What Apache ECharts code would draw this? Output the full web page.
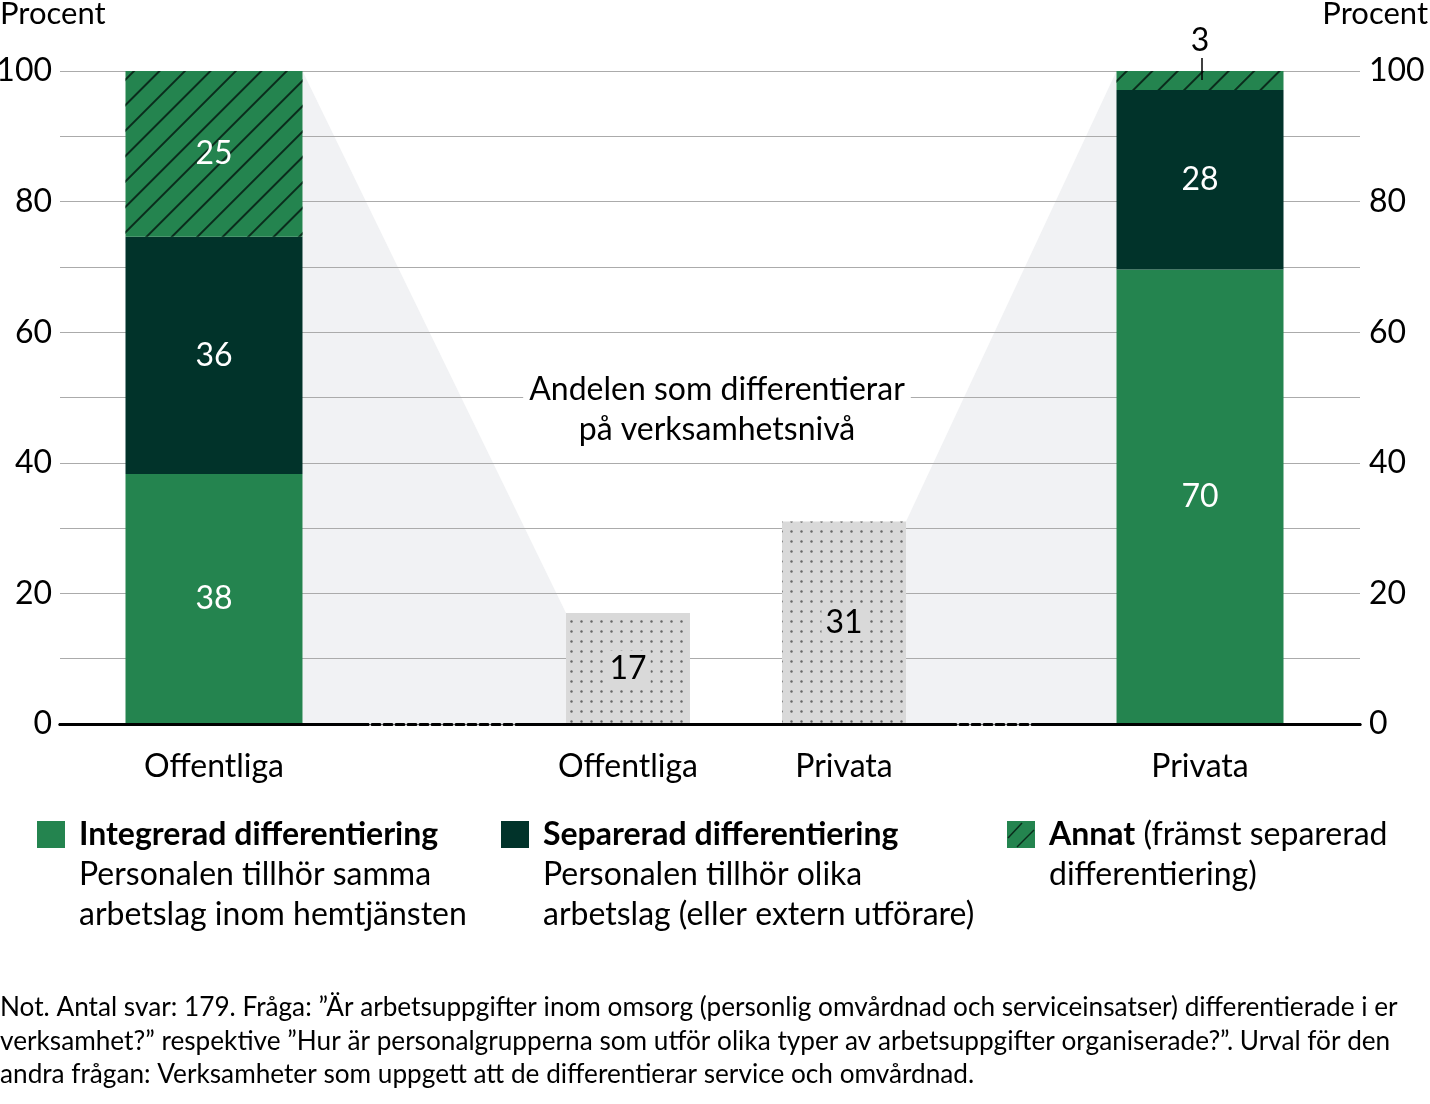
<!DOCTYPE html>
<html><head><meta charset="utf-8">
<script src="https://cdn.jsdelivr.net/npm/echarts@6/dist/echarts.min.js"></script>
<style>html,body{margin:0;padding:0;background:#fff}#c{width:1430px;height:1104px}</style>
</head><body><div id="c"></div>
<script>
// ---- data ----
const outerCategories = ['Offentliga', 'Privata'];
const integrerad = [38.3, 69.6];
const separerad = [36.3, 27.5];
const annat = [25.4, 2.9];
const verksamhetCategories = ['Offentliga', 'Privata'];
const verksamhet = [17, 31];
const yTickLabels = [0, 20, 40, 60, 80, 100];
const axisTitle = 'Procent';
const annotationText = 'Andelen som differentierar\npå verksamhetsnivå';
const legendTitles = ['Integrerad differentiering', 'Separerad differentiering', 'Annat'];
const legendTexts = ['Personalen tillhör samma\narbetslag inom hemtjänsten', 'Personalen tillhör olika\narbetslag (eller extern utförare)', ' (främst separerad\ndifferentiering)'];
const noteText = 'Not. Antal svar: 179. Fråga: ”Är arbetsuppgifter inom omsorg (personlig omvårdnad och serviceinsatser) differentierade i er\nverksamhet?” respektive ”Hur är personalgrupperna som utför olika typer av arbetsuppgifter organiserade?”. Urval för den\nandra frågan: Verksamheter som uppgett att de differentierar service och omvårdnad.';

// ---- style ----
const FONT = 'Lato';
const GREEN = '#24844f';
const DARK = '#01332a';
const HATCH = '#0a2c1c';
const GRAY_BAR = '#d9d9d9';
const FAN = '#f1f2f4';
const W_OUT_L = 177, W_IN = 124, W_OUT_R = 167;

const chart = echarts.init(document.getElementById('c'), null, {renderer: 'canvas'});
const hatchDecal = {symbol: 'rect', symbolSize: 1, color: HATCH, dashArrayX: [1, 0], dashArrayY: [1.6, 16], rotation: -Math.PI / 4};
const dotDecal = {symbol: 'circle', symbolSize: 0.8, color: '#666666', dashArrayX: [3, 7], dashArrayY: [3, 7], rotation: 0};
const whiteLabel = {show: true, position: 'inside', color: '#fff', fontFamily: FONT, fontSize: 32, formatter: p => Math.round(p.value)};

function hideY(g) { return {type: 'value', gridIndex: g, min: 0, max: 100, show: false}; }
function catX(g, data) {
  return {type: 'category', gridIndex: g, data: data, z: 5,
    axisLine: {lineStyle: {color: '#000', width: 3}}, axisTick: {show: false},
    axisLabel: {color: '#000', fontFamily: FONT, fontSize: 32, margin: 27}};
}
const yLabelL = {color: '#000', fontFamily: FONT, fontSize: 32, margin: 8, formatter: v => yTickLabels.includes(v) ? String(v) : ''};
const yLabelR = {color: '#000', fontFamily: FONT, fontSize: 32, margin: 9, formatter: v => yTickLabels.includes(v) ? String(v) : ''};
const gridBase = {top: 71, bottom: 380, containLabel: false, outerBoundsMode: 'none'};

const option = {
  backgroundColor: '#fff',
  animation: false,
  grid: [
    Object.assign({left: 60, right: 70}, gridBase),
    Object.assign({left: 60, width: 308}, gridBase),
    Object.assign({left: 520, width: 432}, gridBase),
    Object.assign({left: 1040, width: 320}, gridBase)
  ],
  xAxis: [
    {type: 'value', gridIndex: 0, min: 0, max: 1, z: 4, axisLabel: {show: false}, axisTick: {show: false}, splitLine: {show: false},
      axisLine: {show: true, lineStyle: {color: '#000', width: 3, type: [8, 4]}}},
    catX(1, [outerCategories[0]]),
    catX(2, verksamhetCategories),
    catX(3, [outerCategories[1]])
  ],
  yAxis: [
    {type: 'value', gridIndex: 0, min: 0, max: 100, interval: 10, position: 'left', axisLine: {show: false}, axisTick: {show: false},
      splitLine: {lineStyle: {color: '#ababab', width: 1.2}}, axisLabel: yLabelL},
    {type: 'value', gridIndex: 0, min: 0, max: 100, interval: 10, position: 'right', axisLine: {show: false}, axisTick: {show: false},
      splitLine: {show: false}, axisLabel: yLabelR},
    hideY(1), hideY(2), hideY(3)
  ],
  series: [
    {type: 'bar', name: legendTitles[0], xAxisIndex: 1, yAxisIndex: 2, stack: 'L', barWidth: W_OUT_L, data: [integrerad[0]], itemStyle: {color: GREEN}, label: whiteLabel},
    {type: 'bar', name: legendTitles[1], xAxisIndex: 1, yAxisIndex: 2, stack: 'L', barWidth: W_OUT_L, data: [separerad[0]], itemStyle: {color: DARK}, label: whiteLabel},
    {type: 'bar', name: legendTitles[2], xAxisIndex: 1, yAxisIndex: 2, stack: 'L', barWidth: W_OUT_L, data: [annat[0]], itemStyle: {color: GREEN, decal: hatchDecal}, label: whiteLabel},
    {type: 'bar', name: 'verksamhet', xAxisIndex: 2, yAxisIndex: 3, barWidth: W_IN, data: verksamhet, itemStyle: {color: GRAY_BAR, decal: dotDecal},
      label: {show: true, position: 'inside', color: '#000', fontFamily: FONT, fontSize: 32, backgroundColor: GRAY_BAR, padding: [2, 4], formatter: p => Math.round(p.value)}},
    {type: 'bar', name: legendTitles[0], xAxisIndex: 3, yAxisIndex: 4, stack: 'R', barWidth: W_OUT_R, data: [integrerad[1]], itemStyle: {color: GREEN}, label: whiteLabel},
    {type: 'bar', name: legendTitles[1], xAxisIndex: 3, yAxisIndex: 4, stack: 'R', barWidth: W_OUT_R, data: [separerad[1]], itemStyle: {color: DARK}, label: whiteLabel},
    {type: 'bar', name: legendTitles[2], xAxisIndex: 3, yAxisIndex: 4, stack: 'R', barWidth: W_OUT_R, data: [annat[1]], itemStyle: {color: GREEN, decal: hatchDecal},
      label: {show: true, position: 'top', distance: 14, color: '#000', fontFamily: FONT, fontSize: 32, formatter: p => Math.round(p.value)}}
  ]
};
chart.setOption(option);

// ---- decorations computed through the library's scales ----
const yPx = v => chart.convertToPixel({yAxisIndex: 0}, v);
const xL = chart.convertToPixel({xAxisIndex: 1}, outerCategories[0]);
const xI0 = chart.convertToPixel({xAxisIndex: 2}, verksamhetCategories[0]);
const xI1 = chart.convertToPixel({xAxisIndex: 2}, verksamhetCategories[1]);
const xR = chart.convertToPixel({xAxisIndex: 3}, outerCategories[1]);
const y0 = yPx(0);
const topL = yPx(integrerad[0] + separerad[0] + annat[0]);
const topR = yPx(integrerad[1] + separerad[1] + annat[1]);
const lEdge = xL + W_OUT_L / 2, i0Edge = xI0 - W_IN / 2, i1Edge = xI1 + W_IN / 2, rEdge = xR - W_OUT_R / 2;

const graphics = [
  {type: 'polygon', z: -10, silent: true, shape: {points: [[lEdge, topL], [i0Edge, yPx(verksamhet[0])], [i0Edge, y0], [lEdge, y0]]}, style: {fill: FAN}},
  {type: 'polygon', z: -10, silent: true, shape: {points: [[i1Edge, yPx(verksamhet[1])], [rEdge, topR], [rEdge, y0], [i1Edge, y0]]}, style: {fill: FAN}},
  {type: 'text', z: 50, style: {text: annotationText, x: (xI0 + xI1) / 2 - 19, y: 410, align: 'center', verticalAlign: 'middle', fontFamily: FONT, fontSize: 32, lineHeight: 40, fill: '#000', backgroundColor: '#fff', padding: [0, 6]}},
  {type: 'line', z: 50, shape: {x1: xR + 2, y1: topR - 13, x2: xR + 2, y2: topR + 9}, style: {stroke: '#000', lineWidth: 1.5}},
  {type: 'text', z: 50, style: {text: axisTitle, x: 0, y: 14, align: 'left', verticalAlign: 'middle', fontFamily: FONT, fontSize: 31, fill: '#000'}},
  {type: 'text', z: 50, style: {text: axisTitle, x: 1428, y: 14, align: 'right', verticalAlign: 'middle', fontFamily: FONT, fontSize: 31, fill: '#000'}},
  {type: 'text', z: 50, style: {text: noteText, x: 0, y: 991, align: 'left', verticalAlign: 'top', fontFamily: FONT, fontSize: 26.2, lineHeight: 33.5, fill: '#000'}}
];
// legend
const legX = [37, 501, 1007];
const legColors = [GREEN, DARK, GREEN];
for (let i = 0; i < 3; i++) {
  graphics.push({type: 'rect', z: 50, shape: {x: legX[i], y: 821, width: 28, height: 27}, style: {fill: legColors[i]}});
  const rich = {b: {fontWeight: 'bold', fontFamily: FONT, fontSize: 32, fill: '#000'}};
  const txt = i === 2 ? '{b|' + legendTitles[i] + '}' + legendTexts[i] : '{b|' + legendTitles[i] + '}\n' + legendTexts[i];
  graphics.push({type: 'text', z: 50, style: {text: txt, rich: rich, x: legX[i] + 42, y: 815, align: 'left', verticalAlign: 'top', fontFamily: FONT, fontSize: 32, lineHeight: 40, fill: '#000'}});
}
// hatch marks in the third legend icon
graphics.push({type: 'line', z: 51, shape: {x1: legX[2] + 1, y1: 838, x2: legX[2] + 15, y2: 823}, style: {stroke: HATCH, lineWidth: 1.5}});
graphics.push({type: 'line', z: 51, shape: {x1: legX[2] + 10, y1: 847, x2: legX[2] + 27, y2: 830}, style: {stroke: HATCH, lineWidth: 1.5}});

chart.setOption({graphic: graphics});
</script></body></html>
